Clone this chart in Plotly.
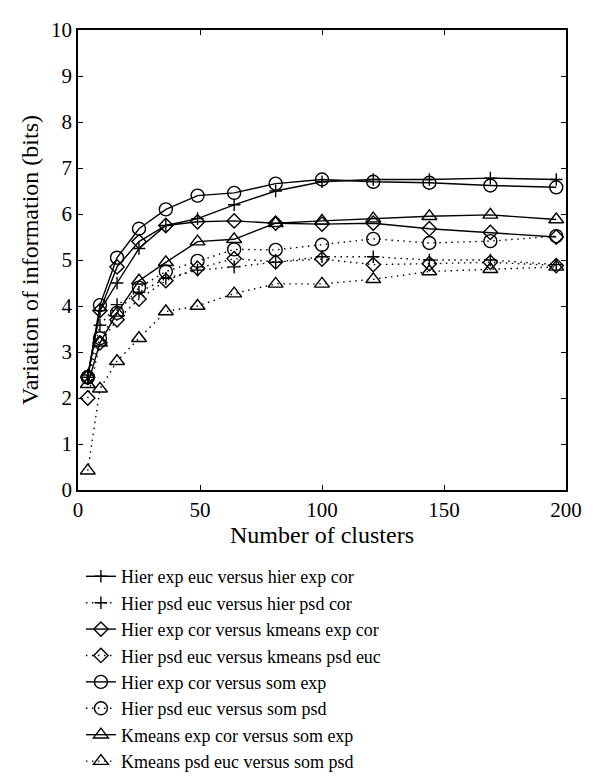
import plotly.graph_objects as go

# number of clusters (k = n^2)
clusters = [4, 9, 16, 25, 36, 49, 64, 81, 100, 121, 144, 169, 196]

hier_exp_euc_hier_exp_cor = [2.5, 3.9, 4.5, 5.25, 5.75, 5.9, 6.2, 6.5, 6.7, 6.75, 6.75, 6.78, 6.75]
hier_psd_euc_hier_psd_cor = [2.45, 3.58, 4.03, 4.3, 4.6, 4.78, 4.85, 4.95, 5.07, 5.07, 5.0, 5.0, 4.9]
hier_exp_cor_kmeans_exp_cor = [2.45, 3.9, 4.85, 5.4, 5.75, 5.83, 5.85, 5.8, 5.78, 5.8, 5.68, 5.6, 5.5]
hier_psd_euc_kmeans_psd_euc = [2.0, 3.2, 3.7, 4.15, 4.55, 4.82, 5.03, 4.96, 5.02, 4.9, 4.92, 4.95, 4.88]
hier_exp_cor_som_exp = [2.45, 4.02, 5.05, 5.68, 6.1, 6.4, 6.46, 6.66, 6.75, 6.7, 6.68, 6.62, 6.58]
hier_psd_euc_som_psd = [2.45, 3.3, 3.85, 4.4, 4.75, 4.98, 5.23, 5.22, 5.33, 5.46, 5.37, 5.41, 5.52]
kmeans_exp_cor_som_exp = [2.3, 3.2, 3.85, 4.55, 4.95, 5.4, 5.45, 5.8, 5.85, 5.9, 5.95, 5.98, 5.88]
kmeans_psd_euc_som_psd = [0.42, 2.2, 2.8, 3.3, 3.88, 4.0, 4.27, 4.48, 4.48, 4.58, 4.75, 4.8, 4.85]

DOT = "1.5px,4.5px"
series = [
    ("Hier exp euc versus hier exp cor", hier_exp_euc_hier_exp_cor, "solid", "cross-thin", 9),
    ("Hier psd euc versus hier psd cor", hier_psd_euc_hier_psd_cor, DOT, "cross-thin", 9),
    ("Hier exp cor versus kmeans exp cor", hier_exp_cor_kmeans_exp_cor, "solid", "diamond-open", 11),
    ("Hier psd euc versus kmeans psd euc", hier_psd_euc_kmeans_psd_euc, DOT, "diamond-open", 11),
    ("Hier exp cor versus som exp", hier_exp_cor_som_exp, "solid", "circle-open", 13),
    ("Hier psd euc versus som psd", hier_psd_euc_som_psd, DOT, "circle-open", 13),
    ("Kmeans exp cor versus som exp", kmeans_exp_cor_som_exp, "solid", "triangle-up-open", 13),
    ("Kmeans psd euc versus som psd", kmeans_psd_euc_som_psd, DOT, "triangle-up-open", 13),
]

fig = go.Figure()
for name, ys, dash, sym, sz in series:
    fig.add_trace(go.Scatter(
        x=clusters, y=ys, name=name, mode="lines+markers",
        line=dict(color="black", width=1.4, dash=dash),
        marker=dict(symbol=sym, size=sz, color="black",
                    line=dict(color="black", width=1.4)),
    ))

font = "Liberation Serif, DejaVu Serif, serif"
axis_common = dict(
    showline=True, linecolor="black", linewidth=1.5, mirror="ticks",
    ticks="inside", ticklen=5, tickcolor="black",
    showgrid=False, zeroline=False, automargin=False,
    tickfont=dict(family=font, size=21, color="black"),
)
fig.update_xaxes(range=[0, 200], dtick=50,
                 title=dict(text="Number of clusters", font=dict(family=font, size=24, color="black"), standoff=5),
                 **axis_common)
fig.update_yaxes(range=[0, 10], dtick=1,
                 title=dict(text="Variation of information (bits)", font=dict(family=font, size=24, color="black"), standoff=6),
                 **axis_common)

# page body adds 8px offset, so margins are shifted to compensate
fig.update_layout(
    width=592, height=776,
    margin=dict(l=70, r=34, t=22, b=294, autoexpand=False),
    plot_bgcolor="white", paper_bgcolor="white",
    font=dict(family=font, size=21, color="black"),
    legend=dict(x=0.006, xanchor="left", y=-0.148, yanchor="top",
                bgcolor="rgba(0,0,0,0)", font=dict(family=font, size=18, color="black"),
                tracegroupgap=0, itemwidth=30),
)

fig.write_html("out.html")
